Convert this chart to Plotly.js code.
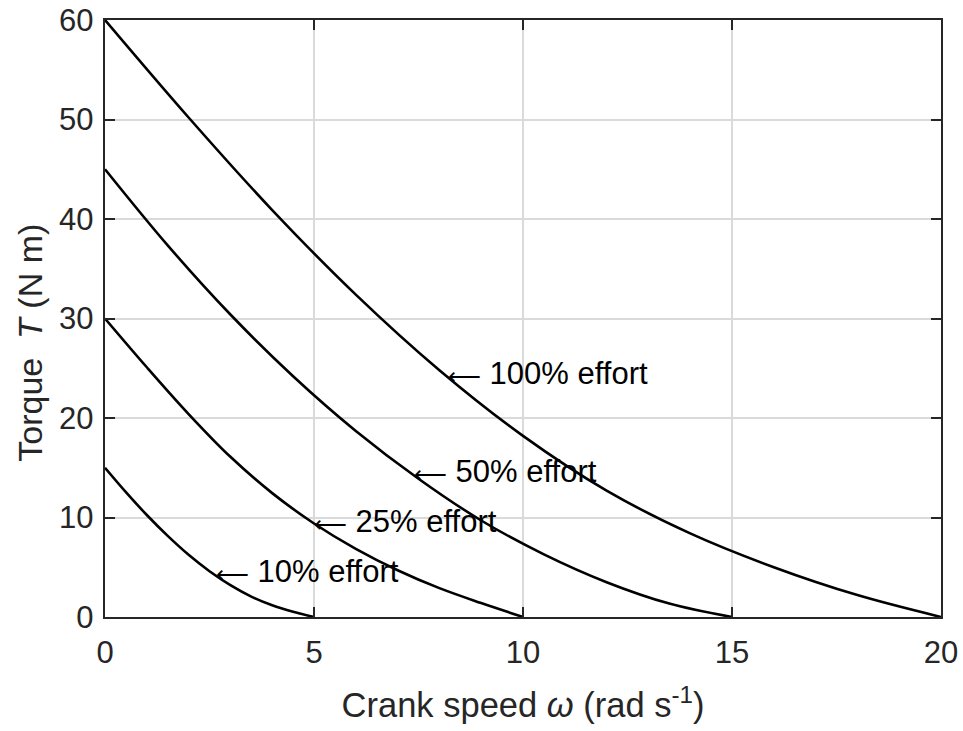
<!DOCTYPE html>
<html>
<head>
<meta charset="utf-8">
<script src="https://cdn.plot.ly/plotly-3.0.1.min.js"></script>
<style>html,body{margin:0;padding:0;background:#fff;}</style>
</head>
<body>
<div id="chart" style="width:963px;height:731px;"></div>
<script>
// Crank speed (rad/s) and torque (N m)
const w100 = [0, 2, 4, 6, 8, 10, 12, 14, 16, 18, 20];
const T100 = [60, 50.2, 40.9, 32.4, 24.8, 18.2, 12.7, 8.4, 5.0, 2.2, 0];

const w50 = [0, 1.5, 3, 4.5, 6, 7.5, 9, 10.5, 12, 13.5, 15];
const T50 = [45, 37.35, 30.4, 24.2, 18.7, 13.9, 9.7, 6.3, 3.5, 1.35, 0];

const w25 = [0, 1, 2, 3, 4, 5, 6, 7, 8, 9, 10];
const T25 = [30, 25.1, 20.4, 16.1, 12.45, 9.4, 6.85, 4.7, 2.9, 1.4, 0];

const w10 = [0, 0.5, 1, 1.5, 2, 2.5, 3, 3.5, 4, 4.5, 5];
const T10 = [15, 12.55, 10.25, 8.15, 6.25, 4.6, 3.2, 2.05, 1.175, 0.525, 0];

const effortLabels = ['100% effort', '50% effort', '25% effort', '10% effort'];
const xTicks = [0, 5, 10, 15, 20];
const yTicks = [0, 10, 20, 30, 40, 50, 60];

const font = 'Liberation Sans, Arial, Helvetica, sans-serif';
const ink = '#262626';

function curve(x, y) {
  return {x: x, y: y, type: 'scatter', mode: 'lines',
    line: {color: '#000000', width: 2.6, shape: 'spline', smoothing: 1},
    hoverinfo: 'skip', showlegend: false};
}

const data = [curve(w100, T100), curve(w50, T50), curve(w25, T25), curve(w10, T10)];

const labelAt = [[8.17, 24.5], [7.37, 14.6], [4.98, 9.6], [2.63, 4.58]];
const annotations = effortLabels.map((t, i) => ({
  x: labelAt[i][0], y: labelAt[i][1], xref: 'x', yref: 'y',
  text: '<span style="font-family:DejaVu Sans;font-size:23px">\u27f5</span> ' + t,
  showarrow: false, xanchor: 'left', yanchor: 'middle', borderpad: 0,
  font: {family: font, size: 31, color: '#000000'}
}));

annotations.push({
  xref: 'paper', yref: 'paper', x: -0.09, y: 0.459,
  text: 'Torque  <i>T</i> (N m)', textangle: -90, showarrow: false,
  xanchor: 'center', yanchor: 'middle',
  font: {family: font, size: 34, color: ink}
});

const axisCommon = {
  showgrid: true, gridcolor: '#dadada', gridwidth: 2,
  zeroline: false, showline: true, linecolor: ink, linewidth: 2.2,
  mirror: 'ticks', ticks: 'inside', ticklen: 10, tickwidth: 2, tickcolor: ink,
  tickfont: {family: font, size: 31, color: ink}, automargin: false
};

const layout = {
  width: 963, height: 731,
  margin: {l: 105, r: 22, t: 20, b: 114},
  paper_bgcolor: '#ffffff', plot_bgcolor: '#ffffff',
  showlegend: false,
  xaxis: Object.assign({}, axisCommon, {
    range: [0, 20], tickvals: xTicks, ticktext: xTicks.map(String),
    ticklabelstandoff: 7,
    title: {text: 'Crank speed <i>\u03c9</i> (rad s<sup>-1</sup>)', standoff: 24,
      font: {family: font, size: 34.5, color: ink}}
  }),
  yaxis: Object.assign({}, axisCommon, {
    range: [0, 60], tickvals: yTicks, ticktext: yTicks.map(String),
    ticklabelstandoff: 3
  }),
  annotations: annotations
};

Plotly.newPlot('chart', data, layout, {displayModeBar: false, staticPlot: true});
</script>
</body>
</html>
